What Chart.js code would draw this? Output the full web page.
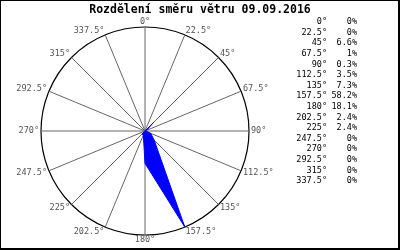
<!DOCTYPE html>
<html>
<head>
<meta charset="utf-8">
<script src="https://cdn.jsdelivr.net/npm/chart.js@4/dist/chart.umd.min.js"></script>
<style>
  html, body { margin: 0; padding: 0; background: #fff; }
  #wrap { position: relative; width: 400px; height: 250px; box-sizing: border-box; border-left: 1px solid #000; border-top: 1px solid #000; border-right: 2px solid #000; border-bottom: 2px solid #000; overflow: hidden; }
  canvas { position: absolute; left: -1px; top: -1px; }
</style>
</head>
<body>
<div id="wrap"><canvas id="c" width="400" height="250"></canvas></div>
<script>
const TITLE = 'Rozdělení směru větru 09.09.2016';
const directions = ['0°','22.5°','45°','67.5°','90°','112.5°','135°','157.5°','180°','202.5°','225°','247.5°','270°','292.5°','315°','337.5°'];
const values = [0, 0, 6.6, 1, 0.3, 3.5, 7.3, 58.2, 18.1, 2.4, 2.4, 0, 0, 0, 0, 0];
const percentLabels = ['0%','0%','6.6%','1%','0.3%','3.5%','7.3%','58.2%','18.1%','2.4%','2.4%','0%','0%','0%','0%','0%'];
const scaleMax = 58.2;

const MONO = '"DejaVu Sans Mono", "Liberation Mono", monospace';

const sidePlugin = {
  id: 'side',
  afterDraw(chart) {
    const ctx = chart.ctx;
    const r = chart.scales.r;
    ctx.save();
    ctx.fillStyle = '#000';
    ctx.font = 'bold 11.5px ' + MONO;
    ctx.textAlign = 'center';
    ctx.textBaseline = 'middle';
    ctx.fillText(TITLE, 200, 10);

    // direction labels around the circle, placed via the radial scale
    ctx.font = '8.5px ' + MONO;
    ctx.fillStyle = '#555';
    directions.forEach((d, i) => {
      const px = r.getPointPosition(i, r.drawingArea + 2).x;
      const py = r.getPointPosition(i, r.drawingArea + 5).y;
      const dx = px - r.xCenter;
      ctx.textAlign = Math.abs(dx) < 1 ? 'center' : (dx > 0 ? 'left' : 'right');
      ctx.fillText(d, px, py);
    });

    // side table
    ctx.fillStyle = '#000';
    ctx.textAlign = 'right';
    directions.forEach((d, i) => {
      const y = 22 + i * 10.6;
      ctx.fillText(d, 327, y);
      ctx.fillText(percentLabels[i], 357, y);
    });
    ctx.restore();
  }
};

new Chart(document.getElementById('c'), {
  type: 'radar',
  data: {
    labels: directions,
    datasets: [{
      data: values,
      backgroundColor: '#0000ff',
      borderColor: '#0000ff',
      borderWidth: 1,
      pointRadius: 0,
      fill: true
    }]
  },
  options: {
    responsive: false,
    devicePixelRatio: 1,
    animation: false,
    layout: { padding: { left: 41, right: 151, top: 27, bottom: 15 } },
    plugins: { legend: { display: false }, tooltip: { enabled: false }, title: { display: false } },
    elements: { line: { tension: 0 } },
    scales: {
      r: {
        min: 0,
        max: scaleMax,
        ticks: { display: false, count: 2 },
        grid: { circular: true, color: '#000', lineWidth: 1.2 },
        angleLines: { color: '#666', lineWidth: 1 },
        pointLabels: { display: false }
      }
    }
  },
  plugins: [sidePlugin]
});
</script>
</body>
</html>
